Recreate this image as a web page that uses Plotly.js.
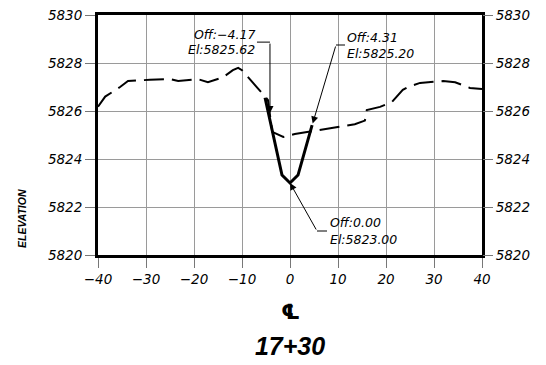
<!DOCTYPE html>
<html>
<head>
<meta charset="utf-8">
<script src="https://cdn.plot.ly/plotly-3.0.1.min.js"></script>
<style>html,body{margin:0;padding:0;background:#fff;}#chart{width:546px;height:365px;}</style>
</head>
<body>
<div id="chart"></div>
<script>
// Existing ground (dashed)
const groundX = [-40, -38.5, -35.4, -33.75, -29.2, -26.5, -25, -23.3, -19.2, -17.1, -14, -11.9, -10.8, -10, -8.3, -6.7, -4.6, -3.7, -1.4, 1.0, 6.25, 8.3, 13.5, 15.6, 16.0, 18.75, 21.25, 23.5, 24.6, 27.1, 31.9, 34.4, 36, 37.5, 40];
const groundY = [5826.18, 5826.6, 5827.0, 5827.25, 5827.3, 5827.3, 5827.33, 5827.25, 5827.33, 5827.2, 5827.4, 5827.7, 5827.8, 5827.7, 5827.3, 5826.96, 5826.46, 5825.13, 5824.92, 5825.04, 5825.2, 5825.29, 5825.45, 5825.6, 5826.04, 5826.17, 5826.38, 5826.88, 5827.0, 5827.17, 5827.25, 5827.2, 5827.08, 5826.96, 5826.92];
// Design section (solid)
const designX = [-5.2, -4.17, -1.67, 0, 1.67, 4.31, 4.6];
const designY = [5826.55, 5825.62, 5823.33, 5823.0, 5823.33, 5825.20, 5825.41];
// Labelled points
const labelOff = [-4.17, 4.31, 0.00];
const labelEl = [5825.62, 5825.20, 5823.00];
// Ticks
const xTicks = [-40, -30, -20, -10, 0, 10, 20, 30, 40];
const yTicks = [5820, 5822, 5824, 5826, 5828, 5830];
const stationLabel = '17+30';

const tickFont = {family: 'DejaVu Sans', size: 13.5, style: 'italic', color: '#000'};
const annFont = {family: 'DejaVu Sans', size: 12.5, style: 'italic', color: '#000'};

const fmtOff = v => 'Off:' + (v < 0 ? '\u2212' + Math.abs(v).toFixed(2) : v.toFixed(2));
const fmtEl = v => 'El:' + v.toFixed(2);

// leader geometry per label (pixel offsets relative to labelled point)
const leader = [
  {ax: 0, ay: -78, hx0: -13, hx1: 0, hy: 78, tx: -13, anchor: 'right', y1: 86, y2: 71, standoff: 7},
  {ax: 25.3, ay: -85.2, hx0: 25.3, hx1: 34.3, hy: 85.2, tx: 34, anchor: 'left', y1: 92.7, y2: 76.7, standoff: 7},
  {ax: 27, ay: 48, hx0: 27, hx1: 37, hy: -48, tx: 38, anchor: 'left', y1: -39.5, y2: -56, standoff: 0}
];

const traces = [
  {x: groundX, y: groundY, type: 'scatter', mode: 'lines', line: {color: '#000', width: 2, dash: '20px,8px'}, hoverinfo: 'skip'},
  {x: designX, y: designY, type: 'scatter', mode: 'lines', line: {color: '#000', width: 3}, hoverinfo: 'skip'},
  {x: [null], y: [null], yaxis: 'y2', type: 'scatter', mode: 'lines', showlegend: false, hoverinfo: 'skip'}
];

const annotations = [];
const shapes = [];
labelOff.forEach((off, i) => {
  const el = labelEl[i];
  const g = leader[i];
  annotations.push({x: off, y: el, xref: 'x', yref: 'y', text: '', showarrow: true,
    ax: g.ax, ay: g.ay, axref: 'pixel', ayref: 'pixel', arrowhead: 2, arrowsize: 1.4, arrowwidth: 1,
    arrowcolor: '#000', standoff: g.standoff});
  annotations.push({x: off, y: el, xref: 'x', yref: 'y', text: fmtOff(off), showarrow: false,
    xanchor: g.anchor, yanchor: 'middle', xshift: g.tx, yshift: g.y1, font: annFont});
  annotations.push({x: off, y: el, xref: 'x', yref: 'y', text: fmtEl(el), showarrow: false,
    xanchor: g.anchor, yanchor: 'middle', xshift: g.tx, yshift: g.y2, font: annFont});
  shapes.push({type: 'line', xref: 'x', yref: 'y', xsizemode: 'pixel', ysizemode: 'pixel',
    xanchor: off, yanchor: el, x0: g.hx0, x1: g.hx1, y0: g.hy, y1: g.hy, line: {color: '#000', width: 1}});
});

annotations.push({xref: 'paper', yref: 'paper', x: 0.5, y: 0, yshift: -57, text: '\u2104', showarrow: false,
  xanchor: 'center', yanchor: 'middle', font: {family: 'DejaVu Sans', size: 21, weight: 'bold', color: '#000'}});
annotations.push({xref: 'paper', yref: 'paper', x: 0, xshift: -76, y: 0.15, text: 'ELEVATION', textangle: -90,
  showarrow: false, xanchor: 'center', yanchor: 'middle',
  font: {family: 'Liberation Sans', size: 10.5, weight: 'bold', style: 'italic', color: '#000'}});

const axisCommon = {ticks: 'outside', ticklen: 10, tickcolor: '#777', tickwidth: 1, zeroline: false, tickfont: tickFont};

const layout = {
  width: 546, height: 365,
  margin: {l: 98, r: 64, t: 15, b: 110},
  paper_bgcolor: '#fff', plot_bgcolor: '#fff',
  showlegend: false,
  title: {text: stationLabel, xref: 'paper', x: 0.5, xanchor: 'center', yref: 'container', y: 0.052, yanchor: 'middle',
    font: {family: 'Liberation Sans', size: 25, weight: 'bold', style: 'italic', color: '#000'}},
  xaxis: Object.assign({}, axisCommon, {range: [-40, 40], tickvals: xTicks, showgrid: true, gridcolor: '#9a9a9a', gridwidth: 1,
    showline: true, linecolor: '#000', linewidth: 3, mirror: true}),
  yaxis: Object.assign({}, axisCommon, {range: [5820, 5830], tickvals: yTicks, showgrid: true, gridcolor: '#9a9a9a', gridwidth: 1,
    showline: true, linecolor: '#000', linewidth: 3, mirror: true}),
  yaxis2: Object.assign({}, axisCommon, {range: [5820, 5830], tickvals: yTicks, overlaying: 'y', side: 'right', showgrid: false, showline: false}),
  annotations: annotations,
  shapes: shapes
};

Plotly.newPlot('chart', traces, layout, {staticPlot: true, displayModeBar: false});
</script>
</body>
</html>
